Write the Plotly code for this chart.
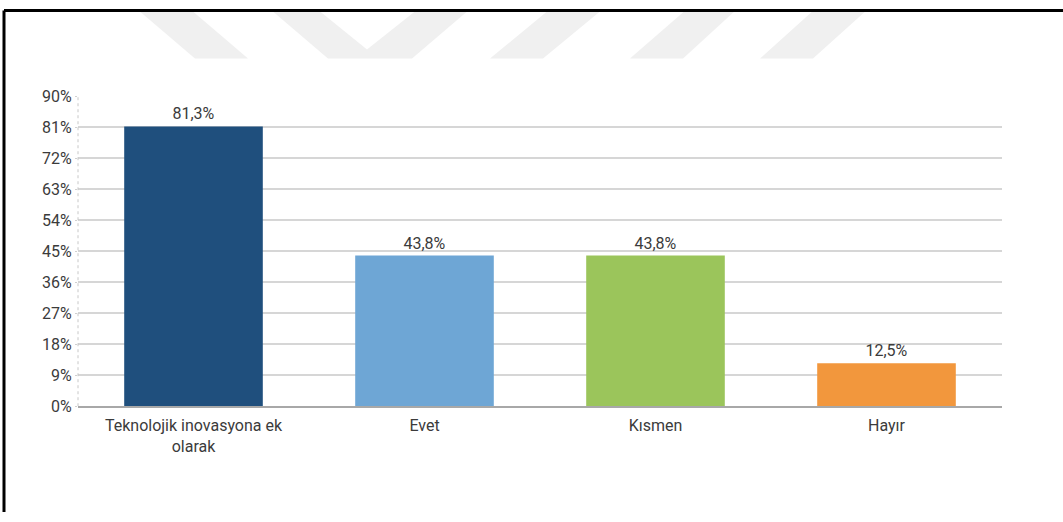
import plotly.graph_objects as go

# --- data -------------------------------------------------------------
categories = ["Teknolojik inovasyona ek<br>olarak", "Evet", "Kısmen", "Hayır"]
values = [81.3, 43.8, 43.8, 12.5]
bar_colors = ["#1f4f7d", "#6ea6d5", "#9bc55b", "#f2973d"]
y_tick_values = [0, 9, 18, 27, 36, 45, 54, 63, 72, 81, 90]
y_tick_labels = ["0%", "9%", "18%", "27%", "36%", "45%", "54%", "63%", "72%", "81%", "90%"]

W, H = 1063, 522
FONT = "Roboto, Liberation Sans, Arial, sans-serif"
TEXT = "#3b3b3b"

# vertical layout positions, in page pixels from the top
Y_OFF, Y_SCALE = 8.4, 0.9645


def px(x):
    return x / W


def py(y):
    # page pixel (from top) -> paper fraction
    return 1 - ((y - Y_OFF) / Y_SCALE) / H


def poly(points):
    pts = [f"{px(x):.5f},{py(y):.5f}" for x, y in points]
    return "M " + " L ".join(pts) + " Z"


fig = go.Figure(
    go.Bar(
        x=categories,
        y=values,
        marker=dict(color=bar_colors, line=dict(width=0)),
        texttemplate="%{y:.1f}%",
        textposition="outside",
        textfont=dict(family=FONT, size=16, color=TEXT),
        cliponaxis=False,
        width=0.6,
    )
)

# light watermark band shapes along the top edge
watermark = [
    [(137, 8.4), (190, 8.4), (248, 58), (195, 58)],
    [(270, 8.4), (317, 8.4), (367, 49), (418, 8.4), (470, 8.4), (412, 58), (328, 58)],
    [(550, 8.4), (603, 8.4), (543, 58), (490, 58)],
    [(687, 8.4), (737, 8.4), (683, 58), (630, 58)],
    [(815, 8.4), (868, 8.4), (813, 58), (760, 58)],
]
shapes = [
    dict(type="path", path=poly(p), xref="paper", yref="paper",
         fillcolor="#f0f0f0", line=dict(width=0), layer="below")
    for p in watermark
]

# frame lines (top and left)
top_y = 1 - 1.5 / H
shapes += [
    dict(type="line", xref="paper", yref="paper", x0=px(4), x1=1, y0=top_y, y1=top_y,
         line=dict(color="#000000", width=3)),
    dict(type="line", xref="paper", yref="paper", x0=px(4), x1=px(4), y0=top_y, y1=0,
         line=dict(color="#000000", width=3)),
    # dotted value axis
    dict(type="line", xref="x domain", yref="y", x0=0, x1=0, y0=0, y1=90,
         line=dict(color="#c8c8c8", width=1, dash="dot")),
]

fig.update_layout(
    width=W,
    height=H,
    margin=dict(l=0, r=0, t=0, b=0),
    paper_bgcolor="white",
    plot_bgcolor="white",
    showlegend=False,
    separators=",.",
    shapes=shapes,
    font=dict(family=FONT, color=TEXT),
    xaxis=dict(
        domain=[px(78), px(1002)],
        showgrid=False,
        showline=True,
        linecolor="#a8a8a8",
        linewidth=1.5,
        ticks="",
        ticklabelstandoff=4,
        tickfont=dict(family=FONT, size=16, color=TEXT),
        fixedrange=True,
    ),
    yaxis=dict(
        domain=[py(406), py(96)],
        range=[0, 90],
        tickvals=y_tick_values,
        ticktext=y_tick_labels,
        showgrid=True,
        gridcolor="#d6d6d6",
        gridwidth=1.5,
        zeroline=False,
        showline=False,
        ticks="outside",
        ticklen=2,
        tickcolor="#d0d0d0",
        tickfont=dict(family=FONT, size=16, color=TEXT),
        fixedrange=True,
    ),
)

fig.write_html("out.html", config={"displayModeBar": False})
